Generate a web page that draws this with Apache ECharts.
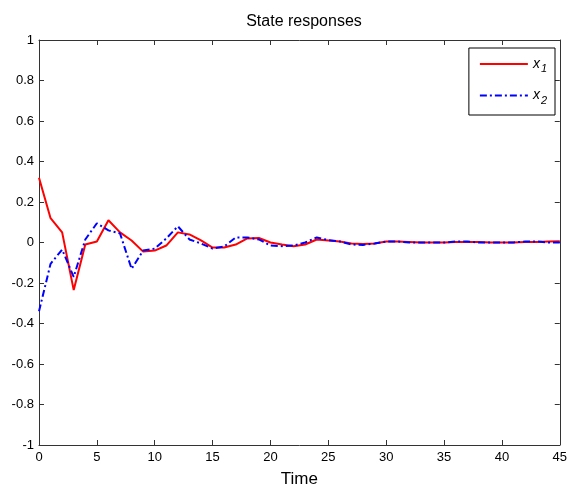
<!DOCTYPE html>
<html>
<head>
<meta charset="utf-8">
<script src="https://cdn.jsdelivr.net/npm/echarts@6/dist/echarts.min.js"></script>
<style>html,body{margin:0;padding:0;background:#fff;}#c{width:570px;height:493px;}</style>
</head>
<body>
<div id="c"></div>
<script>
var time = [];
for (var k = 0; k <= 45; k++) time.push(k);
var x1 = [0.32, 0.12, 0.05, -0.235, -0.01, 0.005, 0.11, 0.05, 0.01, -0.045, -0.04, -0.015, 0.05, 0.04, 0.01, -0.025, -0.025, -0.01, 0.02, 0.022, 0.0, -0.01, -0.018, -0.01, 0.015, 0.01, 0.005, -0.005, -0.008, -0.005, 0.005, 0.005, 0.003, 0.0, 0.0, 0.0, 0.003, 0.003, 0.002, 0.0, 0.0, 0.0, 0.002, 0.003, 0.005, 0.006];
var x2 = [-0.34, -0.105, -0.035, -0.17, 0.015, 0.095, 0.06, 0.045, -0.13, -0.04, -0.03, 0.02, 0.08, 0.015, -0.005, -0.03, -0.02, 0.025, 0.025, 0.015, -0.015, -0.018, -0.015, 0.0, 0.025, 0.012, 0.005, -0.01, -0.012, -0.005, 0.005, 0.005, 0.0, 0.0, 0.0, 0.0, 0.005, 0.005, 0.0, 0.0, 0.0, 0.0, 0.005, 0.005, 0.0, 0.0];
var xTicks = [0, 5, 10, 15, 20, 25, 30, 35, 40, 45];
var yTicks = [-1, -0.8, -0.6, -0.4, -0.2, 0, 0.2, 0.4, 0.6, 0.8, 1];
var titleText = 'State responses';
var xLabel = 'Time';

var font = 'Liberation Sans, Arial, sans-serif';
var axisColor = '#333';
function pairs(v){ return time.map(function(t,i){ return [t, v[i]]; }); }
var chart = echarts.init(document.getElementById('c'));
var baseX = {type:'value', min:xTicks[0], max:xTicks[xTicks.length-1], interval:5,
  axisLine:{onZero:false, lineStyle:{color:axisColor,width:1}}, axisTick:{inside:true,length:5,lineStyle:{color:axisColor}},
  splitLine:{show:false}};
var baseY = {type:'value', min:yTicks[0], max:yTicks[yTicks.length-1], interval:0.2,
  axisLine:{show:true,onZero:false,lineStyle:{color:axisColor,width:1}}, axisTick:{show:true,inside:true,length:5,lineStyle:{color:axisColor}},
  splitLine:{show:false}};
chart.setOption({
  animation:false,
  backgroundColor:'#fff',
  title:{text:titleText, left:299, textAlign:'center', top:9, textStyle:{fontFamily:font, fontSize:16, fontWeight:'normal', color:'#000'}},
  grid:{left:39, right:10, top:40, bottom:42},
  legend:{orient:'vertical', right:15, top:48, padding:[9,8,9,10], itemGap:14, itemWidth:48, itemHeight:14,
    borderColor:'#000', borderWidth:1, backgroundColor:'#fff',
    itemStyle:{opacity:0},
    data:['x1','x2'],
    formatter:function(n){ return '{i|x}{s|' + n.slice(1) + '}'; },
    textStyle:{fontFamily:font, color:'#000', rich:{
      i:{fontStyle:'italic', fontSize:14, fontFamily:font},
      s:{fontStyle:'italic', fontSize:11, fontFamily:font, padding:[10,0,0,1]}
    }}},
  xAxis:[
    Object.assign({}, baseX, {position:'bottom', name:xLabel, nameLocation:'middle', nameGap:26,
      nameTextStyle:{fontFamily:font, fontSize:17, color:'#000'},
      axisLabel:{fontFamily:font, fontSize:13, color:'#000', margin:6}}),
    Object.assign({}, baseX, {position:'top', axisLabel:{show:false}})
  ],
  yAxis:[
    Object.assign({}, baseY, {position:'left', axisLabel:{fontFamily:font, fontSize:13, color:'#000', margin:5}}),
    Object.assign({}, baseY, {position:'right', axisLabel:{show:false}})
  ],
  series:[
    {name:'x1', type:'line', data:pairs(x1), symbol:'none', lineStyle:{color:'#ff0000', width:2}, itemStyle:{color:'#ff0000'}, z:2},
    {name:'x2', type:'line', data:pairs(x2), symbol:'none', lineStyle:{color:'#0000ff', width:2, type:[7,3,2,3]}, itemStyle:{color:'#0000ff'}, z:3}
  ]
});
</script>
</body>
</html>
